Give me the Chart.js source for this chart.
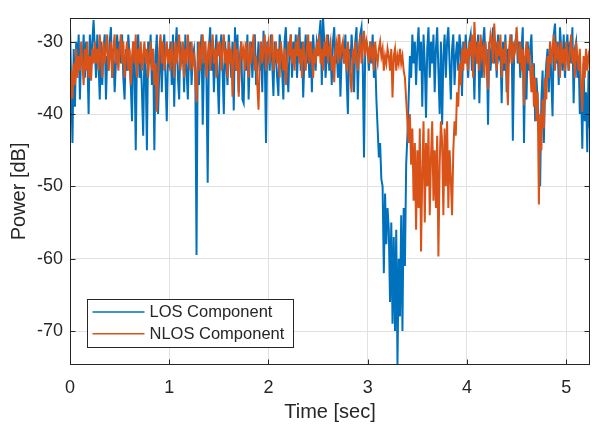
<!DOCTYPE html>
<html><head><meta charset="utf-8">
<script src="https://cdn.jsdelivr.net/npm/chart.js@4.4.1/dist/chart.umd.min.js"></script>
<style>html,body{margin:0;padding:0;background:#fff;overflow:hidden}#wrap{width:592px;height:424px;position:relative}</style>
</head><body><div id="wrap"><canvas id="c" width="592" height="424"></canvas></div>
<script>
const sampleStep = 0.0125; // seconds between samples
const xTicks = [0, 1, 2, 3, 4, 5];
const yTicks = [-70, -60, -50, -40, -30];
const xRange = [0, 5.24];
const yRange = [-74.7, -26.7];
const seriesNames = ['LOS Component', 'NLOS Component'];
const axisTitles = ['Time [sec]', 'Power [dB]'];

const losPower = [
-28,-36,-44,-31,-39,-30,-34,-29,-38,-31,-33,-29,-35,-30,-32,-40,-29,-34,-30,-27,
-31,-35,-29,-33,-38,-30,-36,-31,-29,-38,-32,-34,-30,-28,-35,-31,-37,-33,-29,-32,
-30,-33,-29,-35,-38,-31,-34,-29,-32,-36,-41,-30,-33,-45,-31,-29,-35,-32,-37,-43,
-31,-34,-45,-30,-33,-29,-36,-31,-45,-32,-29,-40,-34,-30,-37,-31,-29,-35,-41,-32,
-33,-30,-36,-29,-39,-31,-28,-35,-38,-30,-33,-31,-37,-29,-34,-38,-31,-30,-36,-32,
-31,-34,-59.5,-30,-36,-32,-29,-41.5,-33,-30,-35,-49.5,-31,-28,-34,-30,-37,-32,-29,-35,
-40,-31,-29,-34,-40,-30,-33,-36,-29,-32,-35,-30,-39.5,-28,-34,-29,-37,-32,-30,-38,
-38.5,-31,-34,-29,-38,-32,-30,-35,-31,-29,-36,-33,-30,-34,-31,-37,-28.5,-32,-44,-30,
-31,-34,-29,-33,-37.5,-30,-32,-35,-37.5,-29,-31,-34,-38,-30,-28,-33,-37,-31,-29,-35,
-30,-33,-29,-35,-31,-28,-34,-30,-37.7,-32,-29,-33,-31,-35,-30,-37,-29,-32,-34,-30,
-31,-29,-27,-36,-26.7,-30,-35,-32,-29,-34,-31,-36,-30,-28,-33,-31,-35,-29,-37.6,-32,
-30,-33,-29,-35,-40,-31,-34,-29,-32,-37,-30,-28,-38,-31,-29,-28,-33,-46,-31,-30,
-31,-34,-30,-33,-29,-35,-32,-38,-42,-46,-44,-49,-50,-62,-51,-58,-53,-56,-66,-55,
-69,-57,-70,-56,-74.7,-60,-68,-54,-70,-53,-61,-47,-43,-38,-32,-35,-29,-33,-30,-36,
-31,-28,-34,-30,-39,-29,-33,-40.5,-31,-28,-35,-30,-33,-29,-37,-31,-28,-34,-40,-30,
-41.5,-32,-29,-35,-30,-28,-33,-38,-31,-29,-36,-32,-30,-34,-29,-31,-37.5,-30,-33,-29,
-32,-35,-30,-29,-34,-31,-38,-30,-33,-29,-38.5,-31,-35,-30,-28,-33,-31,-41.5,-30,-34,
-31,-28,-33,-30,-35,-29,-32,-31,-38.5,-30,-34,-29,-37,-31,-33,-30,-29,-43.7,-32,-30,
-29,-33,-30,-35,-31,-28,-44,-32,-38,-30,-34,-31,-29,-36,-33,-41,-35,-38,-42,-50,
-38,-34,-44,-36,-33,-31,-37,-30,-35,-40.3,-29,-27.5,-33,-30,-36,-28,-31,-34,-29,-35,
-31,-29,-34,-30,-33,-28,-38.5,-31,-30,-35,-32,-40,-36,-44.8,-33,-41,-37,-45.3,-34,-42
];

const nlosPower = [
-39,-34,-37.9,-33,-36,-31,-35,-32,-34,-30,-33,-36,-31,-34,-30,-35,-32,-35.4,-31,-33,
-30,-33,-31,-34,-29,-32,-35,-30,-33,-31,-29,-34,-32,-30,-35,-31,-29,-33,-31,-34,
-31,-29,-33,-30,-35,-32,-30,-34,-31,-36,-32,-30,-33,-29,-35,-31,-33,-30,-34,-32,
-30,-33,-31,-35,-32,-30,-34,-31,-36,-33,-39.7,-35,-31,-29,-33,-30,-34,-32,-30,-33,
-31,-34,-30,-32,-35,-30,-33,-31,-29,-34,-32,-30,-35,-31,-33,-29,-32,-34,-30,-33,
-32,-35,-38.4,-33,-30,-34,-31,-29,-33,-30,-35,-32,-30,-34,-31,-29,-33,-31,-35,-30,
-32,-30,-34,-31,-29,-33,-31,-35,-30,-33,-31,-37.6,-32,-30,-34,-31,-37.6,-33,-30,-32,
-31,-34,-30,-32,-35,-30,-33,-31,-29,-34,-32,-36,-39.4,-32,-30,-33,-31,-29,-34,-31,
-30,-33,-31,-29,-34,-32,-30,-33,-31,-35,-30,-32,-34,-31,-36,-33,-30,-32,-29,-33,
-31,-34,-30,-32,-29,-33,-31,-35,-30,-32,-34,-31,-29,-33,-30,-32,-35,-31,-33,-30,
-32,-29,-33,-31,-34,-30,-32,-29,-33,-31,-30,-34,-32,-35.6,-31,-30,-33,-29,-32,-31,
-30,-33,-31,-34,-30,-32,-35,-37,-31,-33,-30,-32,-34,-31,-29,-33,-31,-28.5,-32,-30,
-31,-33,-30,-32,-31,-34,-30,-32,-33,-31,-30,-32,-31,-34,-32,-33,-31,-32,-34,-31,
-37.7,-32,-31,-34,-32,-33,-31,-33,-32,-34,-35,-38,-41,-44,-40,-47,-42,-52,-44,-56,
-45,-53,-42,-59,-48,-41,-55,-44,-50,-42,-54,-46,-41,-52,-45,-53,-43,-59.7,-47,-41,
-44,-54,-42,-50,-41,-53,-45,-49,-54,-45,-41,-43,-37,-39,-33,-36,-31,-34,-30,-33,
-31,-34,-30,-32,-29,-35,-27.3,-31,-33,-30,-34,-29,-32,-31,-35,-30,-33,-36.6,-31,-29,
-30,-33,-27.5,-31,-34,-30,-32,-29,-35,-31,-33,-30,-34,-38.8,-31,-29,-33,-30,-32,-31,
-28,-31,-33,-30,-34,-31,-38.8,-32,-30,-33,-31,-34,-37,-33,-39,-35,-41,-37,-52.5,-40,
-45,-38,-42,-35,-38,-32,-35,-30,-33,-31,-29,-34,-30,-32,-31,-35,-30,-33,-31,-34,
-30,-32,-34,-31,-29,-33,-31,-35,-30,-32,-34,-31,-36,-39.7,-32,-35,-31,-34,-32,-33
];

const timeSec = losPower.map((_, i) => i * sampleStep);

const FONT = "'Liberation Sans', Arial, Helvetica, sans-serif";
const AX = '#262626';
const GRID = '#e1e1e1';
const COLORS = ['#0072BD', '#D95319'];
const LINE_W = 2;

const boxPlugin = {
  id: 'matlabBox',
  afterDatasetsDraw(chart) {
    const {ctx, chartArea: a, scales} = chart;
    ctx.save();
    ctx.strokeStyle = AX;
    ctx.lineWidth = 1;
    const L = Math.round(a.left) + 0.5, R = Math.round(a.right) - 0.5;
    const T = Math.round(a.top) + 0.5, B = Math.round(a.bottom) - 0.5;
    ctx.strokeRect(L, T, R - L, B - T);
    ctx.beginPath();
    const tl = 5;
    xTicks.forEach(v => {
      const px = Math.round(scales.x.getPixelForValue(v)) + 0.5;
      ctx.moveTo(px, B); ctx.lineTo(px, B - tl);
      ctx.moveTo(px, T); ctx.lineTo(px, T + tl);
    });
    yTicks.forEach(v => {
      const py = Math.round(scales.y.getPixelForValue(v)) + 0.5;
      ctx.moveTo(L, py); ctx.lineTo(L + tl, py);
      ctx.moveTo(R, py); ctx.lineTo(R - tl, py);
    });
    ctx.stroke();
    ctx.restore();
  },
  afterDraw(chart) {
    const {ctx, chartArea: a} = chart;
    ctx.save();
    const bx = Math.round(a.left + 17) + 0.5, by = Math.round(a.bottom - 66) + 0.5;
    const bw = 206, bh = 48;
    ctx.fillStyle = '#ffffff';
    ctx.fillRect(bx, by, bw, bh);
    ctx.strokeStyle = AX; ctx.lineWidth = 1;
    ctx.strokeRect(bx, by, bw, bh);
    ctx.font = "16.5px " + FONT;
    ctx.textBaseline = 'middle';
    ctx.textAlign = 'left';
    seriesNames.forEach((name, i) => {
      const cy = by + 12.5 + i * 21.7;
      ctx.strokeStyle = COLORS[i]; ctx.lineWidth = 1.6;
      ctx.beginPath(); ctx.moveTo(bx + 5, cy); ctx.lineTo(bx + 57, cy); ctx.stroke();
      ctx.fillStyle = AX;
      ctx.fillText(name, bx + 62, cy + 0.8);
    });
    ctx.restore();
  }
};

new Chart(document.getElementById('c').getContext('2d'), {
  type: 'line',
  data: {
    datasets: [
      { label: seriesNames[0], data: timeSec.map((t, i) => ({x: t, y: losPower[i]})),
        borderColor: COLORS[0], borderWidth: LINE_W, pointRadius: 0, tension: 0, fill: false, order: 2,
        borderJoinStyle: 'miter' },
      { label: seriesNames[1], data: timeSec.map((t, i) => ({x: t, y: nlosPower[i]})),
        borderColor: COLORS[1], borderWidth: LINE_W, pointRadius: 0, tension: 0, fill: false, order: 1,
        borderJoinStyle: 'miter' }
    ]
  },
  options: {
    responsive: false, animation: false, events: [],
    layout: { padding: { left: 0, right: 2, top: 8, bottom: 0 } },
    plugins: { legend: { display: false }, tooltip: { enabled: false } },
    scales: {
      x: {
        type: 'linear', min: xRange[0], max: xRange[1],
        afterBuildTicks: s => { s.ticks = xTicks.map(v => ({value: v})); },
        afterFit: s => { s.height = 59; },
        grid: { color: GRID, drawTicks: false, lineWidth: 1 },
        border: { display: false },
        ticks: { padding: 12, color: AX, font: { family: FONT, size: 18 }, maxRotation: 0, autoSkip: false,
                 callback: v => String(v) },
        title: { display: true, text: axisTitles[0], color: AX,
                 font: { family: FONT, size: 20, lineHeight: 1.2 }, padding: { top: 0, bottom: 0 } }
      },
      y: {
        type: 'linear', min: yRange[0], max: yRange[1],
        afterBuildTicks: s => { s.ticks = yTicks.map(v => ({value: v})); },
        afterFit: s => { s.width = 70; },
        grid: { color: GRID, drawTicks: false, lineWidth: 1 },
        border: { display: false },
        ticks: { padding: 7, color: AX, font: { family: FONT, size: 18 }, autoSkip: false,
                 callback: v => String(v) },
        title: { display: true, text: axisTitles[1], color: AX,
                 font: { family: FONT, size: 20, lineHeight: 1.2 }, padding: { top: 7, bottom: 0 } }
      }
    }
  },
  plugins: [boxPlugin]
});
</script>
</body></html>
